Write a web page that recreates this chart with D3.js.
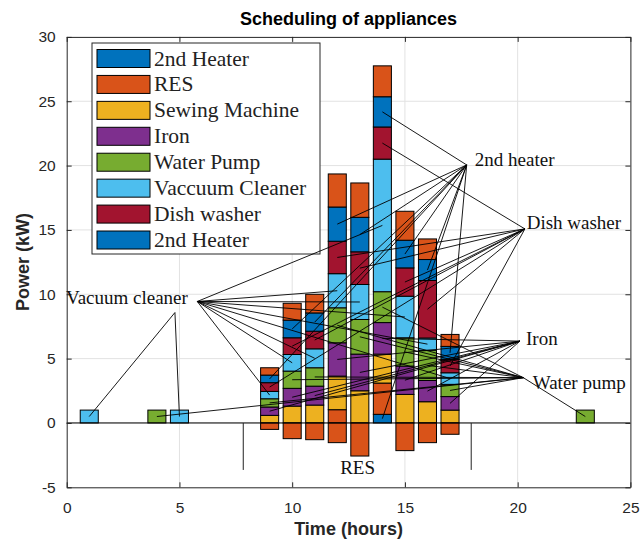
<!DOCTYPE html>
<html>
<head>
<meta charset="utf-8">
<script src="https://cdn.jsdelivr.net/npm/d3@7"></script>
<style>
  body { margin: 0; background: #fff; }
  svg { display: block; }
  .tick text { font-family: "Liberation Sans", Arial, sans-serif; font-size: 15.5px; fill: #262626; }
</style>
</head>
<body>
<div id="chart"></div>
<script>
// hours that have load scheduled
var hours = [1, 4, 5, 9, 10, 11, 12, 13, 14, 15, 16, 17, 23];

// kW per appliance for each hour above (stack order bottom -> top)
var heater1 = [0, 0, 0, 0,    0,    0,    0,    0,    0.67, 0,    0,    0,    0];
var resUp   = [0, 0, 0, 0,    0,    0,    1.03, 0,    2.43, 0,    0,    0,    0];
var sewing  = [0, 0, 0, 0.59, 1.31, 1.39, 2.61, 2.5,  2.25, 2.22, 1.65, 1.0,  0];
var iron    = [0, 0, 0, 0.65, 1.38, 1.47, 2.59, 2.85, 2.45, 2.2,  1.65, 1.05, 0];
var pump    = [0, 1, 0, 0.64, 1.34, 1.43, 2.72, 2.69, 2.4,  2.2,  2.35, 0.95, 1];
var vacuum  = [1, 0, 1, 0.57, 1.29, 1.47, 2.65, 2.72, 10.3, 3.23, 0.95, 0.9,  0];
var dish    = [0, 0, 0, 0.68, 1.3,  1.37, 2.52, 2.54, 2.5,  2.2,  4.47, 1.05, 0];
var heater2 = [0, 0, 0, 0.59, 1.37, 1.42, 2.66, 2.68, 2.35, 2.15, 1.63, 1.0,  0];
var resTop  = [0, 0, 0, 0.57, 1.31, 1.45, 2.57, 2.67, 2.4,  2.25, 1.6,  0.93, 0];
var resDown = [0, 0, 0, -0.5, -1.22, -1.3, -1.53, -2.57, 0, -2.15, -1.53, -0.88, 0];

var legendNames = ["2nd Heater", "RES", "Sewing Machine", "Iron", "Water Pump", "Vaccuum Cleaner", "Dish washer", "2nd Heater"];
var legendKeys  = ["heater1", "resUp", "sewing", "iron", "pump", "vacuum", "dish", "heater2"];

var noteLabels = ["2nd heater", "Dish washer", "Iron", "Water pump", "Vacuum cleaner", "RES"];
var noteKeys   = [["heater1", "heater2"], ["dish"], ["iron"], ["pump"], ["vacuum"], []];

var xTicks = [0, 5, 10, 15, 20, 25];
var yTicks = [-5, 0, 5, 10, 15, 20, 25, 30];

var width = 642, height = 540;

var keys = ["heater1", "resUp", "sewing", "iron", "pump", "vacuum", "dish", "heater2", "resTop", "resDown"];
var series = {heater1: heater1, resUp: resUp, sewing: sewing, iron: iron, pump: pump,
              vacuum: vacuum, dish: dish, heater2: heater2, resTop: resTop, resDown: resDown};

// matlab default colour order
var color = {
    heater1: "#0072BD", resUp: "#D95319", sewing: "#EDB120", iron: "#7E2F8E",
    pump: "#77AC30", vacuum: "#4DBEEE", dish: "#A2142F", heater2: "#0072BD",
    resTop: "#D95319", resDown: "#D95319"
};

var rows = hours.map(function(h, i) {
    var r = {hour: h};
    keys.forEach(function(k) { r[k] = series[k][i]; });
    return r;
});

var stack = d3.stack().keys(keys).offset(d3.stackOffsetDiverging)(rows);

// plot box in pixels (not "top": window.top is read only)
var plotL = 66.7, plotR = 630.4, plotT = 36.9, plotB = 487.3;
var x = d3.scaleLinear().domain([0, 25]).range([plotL, plotR]);
var y = d3.scaleLinear().domain([-5, 30]).range([plotB, plotT]);
var bw = x(0.8) - x(0);

var svg = d3.select("#chart").append("svg")
    .attr("width", width)
    .attr("height", height);

// plot background + grid
svg.append("rect")
    .attr("x", plotL).attr("y", plotT)
    .attr("width", plotR - plotL).attr("height", plotB - plotT)
    .attr("fill", "#fff");

var grid = svg.append("g").attr("stroke", "#e2e2e2").attr("stroke-width", 1);
grid.selectAll("line.gx")
    .data(xTicks.slice(1, -1))
    .enter().append("line")
    .attr("x1", function(d) { return x(d); }).attr("x2", function(d) { return x(d); })
    .attr("y1", plotT).attr("y2", plotB);
grid.selectAll("line.gy")
    .data(yTicks.slice(1, -1))
    .enter().append("line")
    .attr("x1", plotL).attr("x2", plotR)
    .attr("y1", function(d) { return y(d); }).attr("y2", function(d) { return y(d); });

// stacked bars
var layers = svg.append("g").selectAll("g")
    .data(stack)
    .enter().append("g")
    .attr("fill", function(d) { return color[d.key]; });

layers.selectAll("rect")
    .data(function(d) { return d.filter(function(s) { return s[1] - s[0] !== 0; }); })
    .enter().append("rect")
    .attr("x", function(d) { return x(d.data.hour) - bw / 2; })
    .attr("y", function(d) { return y(Math.max(d[0], d[1])); })
    .attr("width", bw)
    .attr("height", function(d) { return Math.abs(y(d[0]) - y(d[1])); })
    .attr("stroke", "#000")
    .attr("stroke-width", 1);

// bar baseline
svg.append("line")
    .attr("x1", plotL).attr("x2", plotR)
    .attr("y1", y(0)).attr("y2", y(0))
    .attr("stroke", "#000").attr("stroke-width", 1);

// the two marker lines under the RES bars
svg.selectAll("line.resmark")
    .data([7.83, 17.94])
    .enter().append("line")
    .attr("x1", function(d) { return x(d); }).attr("x2", function(d) { return x(d); })
    .attr("y1", y(0)).attr("y2", y(-3.65))
    .attr("stroke", "#222").attr("stroke-width", 1);

// axes, ticks pointing inward like matlab; plain hyphen for negatives
var plain = function(d) { return String(d); };
function styleAxis(g) {
    g.select(".domain").attr("stroke", "#262626");
    g.selectAll(".tick line").attr("stroke", "#262626");
}
svg.append("g").attr("transform", "translate(0," + plotB + ")")
    .call(d3.axisBottom(x).tickValues(xTicks).tickFormat(plain).tickSizeInner(-5).tickSizeOuter(0).tickPadding(15))
    .call(styleAxis);
svg.append("g").attr("transform", "translate(0," + plotT + ")")
    .call(d3.axisTop(x).tickValues(xTicks).tickSizeInner(-5).tickSizeOuter(0).tickFormat(""))
    .call(styleAxis);
svg.append("g").attr("transform", "translate(" + plotL + ",0)")
    .call(d3.axisLeft(y).tickValues(yTicks).tickFormat(plain).tickSizeInner(-5).tickSizeOuter(0).tickPadding(11))
    .call(styleAxis);
svg.append("g").attr("transform", "translate(" + plotR + ",0)")
    .call(d3.axisRight(y).tickValues(yTicks).tickSizeInner(-5).tickSizeOuter(0).tickFormat(""))
    .call(styleAxis);

// title and axis labels
svg.append("text")
    .attr("x", (plotL + plotR) / 2).attr("y", 25)
    .attr("text-anchor", "middle")
    .style("font-family", "Liberation Sans, Arial, sans-serif")
    .style("font-weight", "bold").style("font-size", "18px")
    .text("Scheduling of appliances");

svg.append("text")
    .attr("x", (plotL + plotR) / 2).attr("y", 535)
    .attr("text-anchor", "middle")
    .style("font-family", "Liberation Sans, Arial, sans-serif")
    .style("font-weight", "bold").style("font-size", "18px").style("fill", "#262626")
    .text("Time (hours)");

svg.append("text")
    .attr("transform", "translate(29," + ((plotT + plotB) / 2) + ") rotate(-90)")
    .attr("text-anchor", "middle")
    .style("font-family", "Liberation Sans, Arial, sans-serif")
    .style("font-weight", "bold").style("font-size", "18px").style("fill", "#262626")
    .text("Power (kW)");

// legend
var legend = svg.append("g");
legend.append("rect")
    .attr("x", 92).attr("y", 43).attr("width", 228).attr("height", 211)
    .attr("fill", "#fff").attr("stroke", "#262626").attr("stroke-width", 1);

var item = legend.selectAll("g.item")
    .data(legendNames)
    .enter().append("g")
    .attr("transform", function(d, i) { return "translate(0," + (58.5 + i * 25.93) + ")"; });
item.append("rect")
    .attr("x", 97).attr("y", -9).attr("width", 53).attr("height", 18)
    .attr("fill", function(d, i) { return color[legendKeys[i]]; })
    .attr("stroke", "#000").attr("stroke-width", 1);
item.append("text")
    .attr("x", 154).attr("y", 7)
    .style("font-family", "Liberation Serif, Times New Roman, serif")
    .style("font-size", "21.5px").style("fill", "#222")
    .text(function(d) { return d; });

// text arrows: where each label's lines start and where its text sits (data units)
var noteLayout = [
    {ax: 17.74, ay: 20.05, tx: 18.1,  ty: 19.99, anchor: "start"},
    {ax: 20.32, ay: 15.08, tx: 20.4,  ty: 15.08, anchor: "start"},
    {ax: 20.1,  ay: 6.36,  tx: 20.37, ty: 6.05,  anchor: "start"},
    {ax: 20.25, ay: 3.52,  tx: 20.67, ty: 2.61,  anchor: "start"},
    {ax: 5.79,  ay: 9.44,  tx: -0.03, ty: 9.26,  anchor: "start", lx: 4.8, ly: 8.58},
    {ax: 12.9,  ay: -3.94, tx: 12.9,  ty: -3.94, anchor: "middle"}
];

var notes = svg.append("g");
noteLabels.forEach(function(label, n) {
    var L = noteLayout[n];
    var ends = [];
    stack.forEach(function(layer) {
        if (noteKeys[n].indexOf(layer.key) < 0) return;
        layer.forEach(function(s) {
            if (s[1] - s[0] === 0) return;
            ends.push({hx: s.data.hour, v: (s[0] + s[1]) / 2});
        });
    });
    notes.selectAll(null)
        .data(ends)
        .enter().append("line")
        .attr("x1", function(d) { return (L.lx !== undefined && d.hx < L.ax) ? x(L.lx) : x(L.ax); })
        .attr("y1", function(d) { return (L.lx !== undefined && d.hx < L.ax) ? y(L.ly) : y(L.ay); })
        .attr("x2", function(d) { return x(d.hx); })
        .attr("y2", function(d) { return y(d.v); })
        .attr("stroke", "#000").attr("stroke-width", 0.9);
    notes.append("text")
        .attr("x", x(L.tx)).attr("y", y(L.ty))
        .attr("text-anchor", L.anchor)
        .style("font-family", "Liberation Serif, Times New Roman, serif")
        .style("font-size", "19px").style("fill", "#111")
        .text(label);
});
</script>
</body>
</html>
